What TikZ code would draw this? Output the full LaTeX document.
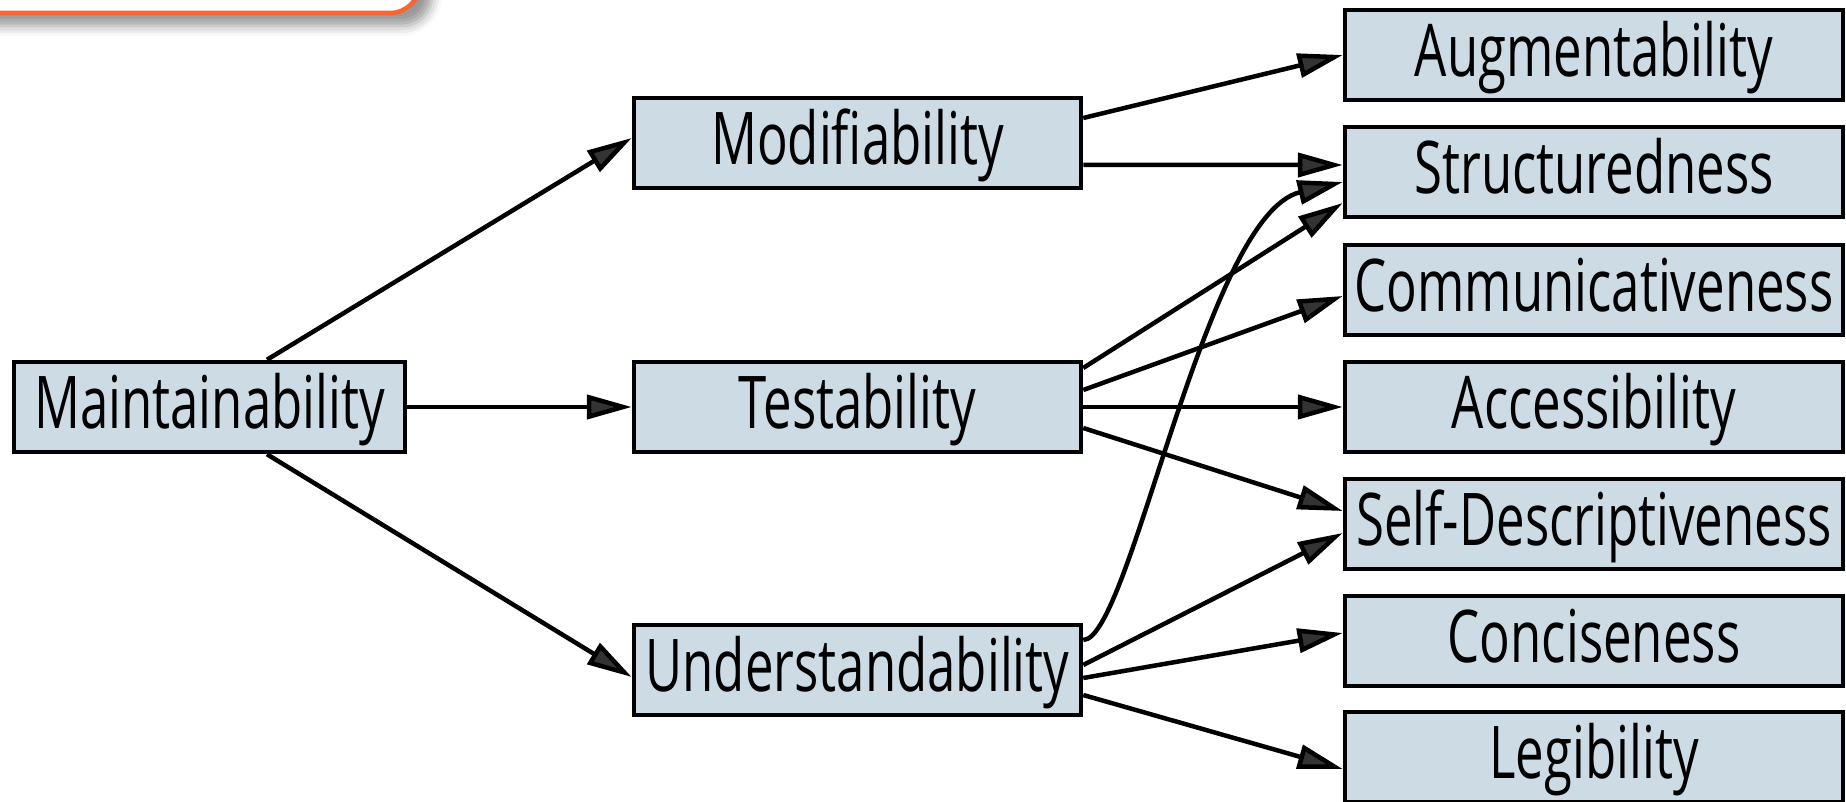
\documentclass[tikz,border=0pt]{standalone}
\usepackage{fontspec}
\setmainfont{Open Sans}[FakeStretch=0.70]
\usetikzlibrary{arrows.meta,shadows.blur}
\definecolor{boxfill}{HTML}{CDDBE4}
\definecolor{tagorange}{HTML}{FA6432}

\begin{document}
\begin{tikzpicture}
      [inner sep=0pt, line width=0.45mm,
       >={Triangle[length=4.5mm,width=2.4mm]},
       quality/.style={rectangle,draw=black,fill=boxfill,minimum height=0.9cm,
         text height=5.6mm,text depth=1.2mm,font=\fontsize{20.7}{24}\selectfont},
       rootbox/.style={quality,minimum width=3.91cm},
       subbox/.style={quality,minimum width=4.47cm},
       critbox/.style={quality,minimum width=4.98cm}]
      \useasboundingbox (0,0) rectangle (18.46,8.02);

      % tab of the page, mostly off the picture
      \draw[tagorange,fill=white,rounded corners=3mm,
            blur shadow={shadow xshift=1.2mm,shadow yshift=-1.3mm,shadow blur radius=1mm}]
        (-1,7.89) rectangle (4.2,9);

      \node (L11) at (2.095,3.95) [rootbox] {Maintainability};

      \node (L21) at (8.575,6.59) [subbox] {Modifiability};
      \node (L22) at (8.575,3.95) [subbox] {Testability};
      \node (L23) at (8.575,1.32) [subbox] {Understandability};

      \node (L31) at (15.94,7.47) [critbox] {Augmentability};
      \node (L32) at (15.94,6.30) [critbox] {Structuredness};
      \node (L33) at (15.94,5.12) [critbox] {Communicativeness};
      \node (L34) at (15.94,3.95) [critbox] {Accessibility};
      \node (L35) at (15.94,2.78) [critbox] {Self-Descriptiveness};
      \node (L36) at (15.94,1.61) [critbox] {Conciseness};
      \node (L37) at (15.94,0.45) [critbox] {Legibility};

      \draw[->] ([xshift=5.75mm]L11.north) -- ([yshift=0.5mm]L21.west);
      \draw[->] (L11.east) -- (L22.west);
      \draw[->] ([xshift=5.75mm]L11.south) -- ([yshift=-0.7mm]L23.west);

      \draw[->] ([yshift=2.5mm]L21.east) -- (L31.west);
      \draw[->] ([yshift=-2.2mm]L21.east) -- ([yshift=0.7mm]L32.west);

      \draw[->] ([yshift=3.9mm]L22.east) -- ([yshift=-3.1mm]L32.west);
      \draw[->] ([yshift=1.7mm]L22.east) -- ([yshift=-0.6mm]L33.west);
      \draw[->] (L22.east) -- (L34.west);
      \draw[->] ([yshift=-2.1mm]L22.east) -- ([yshift=1.3mm]L35.west);

      \draw[->] ([yshift=3mm]L23.east) .. controls +(0.47,0) and +(-1.38,-0.33) .. ([yshift=-1mm]L32.west);
      \draw[->] ([yshift=0.5mm]L23.east) -- ([yshift=-0.9mm]L35.west);
      \draw[->] ([yshift=-0.8mm]L23.east) -- ([yshift=0.8mm]L36.west);
      \draw[->] ([yshift=-2.5mm]L23.east) -- ([yshift=-1.2mm]L37.west);
\end{tikzpicture}
\end{document}
